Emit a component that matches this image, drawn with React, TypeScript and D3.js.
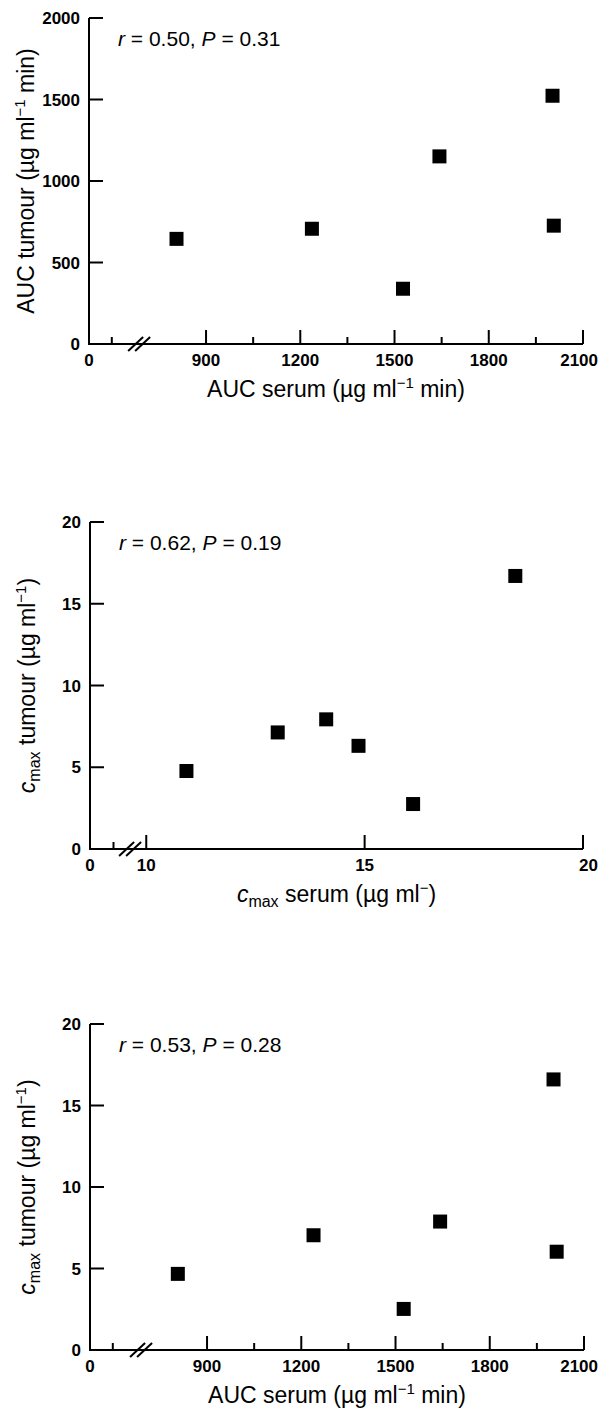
import React from 'react';
import * as d3 from 'd3';

// values
const aucSerumA = [806, 1237, 1527, 1643, 2003, 2007];
const aucTumour = [645, 707, 339, 1151, 1523, 726];
const cmaxSerum = [10.92, 13.01, 14.12, 14.86, 16.11, 18.45];
const cmaxTumourB = [4.77, 7.13, 7.93, 6.31, 2.75, 16.7];
const aucSerumC = [807, 1239, 1526, 1642, 2003, 2013];
const cmaxTumourC = [4.67, 7.04, 2.52, 7.88, 16.6, 6.03];

const aucXTicks = [0, 900, 1200, 1500, 1800, 2100];
const aucXMinor = [600, 1050, 1350, 1650, 1950];
const cmaxXTicks = [0, 10, 15, 20];
const cmaxXMinor = [9.25];
const aucYTicks = [0, 500, 1000, 1500, 2000];
const cmaxYTicks = [0, 5, 10, 15, 20];

const statsR = ['0.50', '0.62', '0.53'];
const statsP = ['0.31', '0.19', '0.28'];

const FONT = '"Liberation Sans", Arial, Helvetica, sans-serif';

type PanelProps = {
  top: number;
  bottom: number;
  xDomain: number[];
  xRange: number[];
  yMax: number;
  xs: number[];
  ys: number[];
  xTicks: number[];
  xMinor: number[];
  yTicks: number[];
  breakAt: number;
  r: string;
  p: string;
  xLabel: React.ReactNode;
  yLabel: React.ReactNode;
};

function Panel(props: PanelProps) {
  const { top, bottom, xDomain, xRange, yMax, xs, ys, xTicks, xMinor, yTicks, breakAt, r, p } = props;
  const x = d3.scaleLinear().domain(xDomain).range(xRange);
  const y = d3.scaleLinear().domain([0, yMax]).range([bottom, top]);
  const x0 = x(0);
  const xEnd = x(xDomain[xDomain.length - 1]);
  const bx = x(breakAt);
  const sq = 14;
  const yMid = (top + bottom) / 2;

  return (
    <g fontFamily={FONT}>
      {/* axes */}
      <path
        d={`M${x0},${top}V${bottom}H${xEnd}`}
        fill="none"
        stroke="#000"
        strokeWidth={2}
      />
      {yTicks.filter(t => t !== 0).map(t => (
        <line key={'yt' + t} x1={x0} x2={x0 + 14} y1={y(t)} y2={y(t)} stroke="#000" strokeWidth={2} />
      ))}
      {yTicks.map(t => (
        <text key={'yl' + t} x={x0 - 9} y={y(t)} dy="0.36em" textAnchor="end" fontSize={17} fontWeight="bold">
          {t}
        </text>
      ))}
      {xTicks.filter(t => t !== 0).map(t => (
        <line key={'xt' + t} x1={x(t)} x2={x(t)} y1={bottom} y2={bottom - 14} stroke="#000" strokeWidth={2} />
      ))}
      {xMinor.map(t => (
        <line key={'xm' + t} x1={x(t)} x2={x(t)} y1={bottom} y2={bottom - 7} stroke="#000" strokeWidth={2} />
      ))}
      {xTicks.map(t => {
        // keep the last label inside the page, as in the original
        const edge = x(t) + 20 > 598;
        return (
          <text
            key={'xl' + t}
            x={edge ? 598 : x(t)}
            y={bottom + 22}
            textAnchor={edge ? 'end' : 'middle'}
            fontSize={17}
            fontWeight="bold"
          >
            {t}
          </text>
        );
      })}
      {/* axis break */}
      {[-3.5, 3.5].map(o => (
        <line key={'br' + o} x1={bx + o - 7.5} y1={bottom + 7} x2={bx + o + 7.5} y2={bottom - 7} stroke="#000" strokeWidth={2} />
      ))}
      {/* points */}
      {xs.map((v, i) => (
        <rect key={'pt' + i} x={x(v) - sq / 2} y={y(ys[i]) - sq / 2} width={sq} height={sq} fill="#000" />
      ))}
      {/* statistics */}
      <text x={x0 + 29} y={top + 28} fontSize={21}>
        <tspan fontStyle="italic">r</tspan>
        {` = ${r}, `}
        <tspan fontStyle="italic">P</tspan>
        <tspan dx={6}>{`= ${p}`}</tspan>
      </text>
      {/* axis titles */}
      <text x={(x0 + xEnd) / 2} y={bottom + 53} textAnchor="middle" fontSize={23}>
        {props.xLabel}
      </text>
      <text transform={`translate(${x0 - 55},${yMid}) rotate(-90)`} textAnchor="middle" fontSize={23}>
        {props.yLabel}
      </text>
    </g>
  );
}

const aucLabel = (name: string) => (
  <>
    <tspan>{`AUC ${name} (µg ml`}</tspan>
    <tspan dy={-9} fontSize={15}>−1</tspan>
    <tspan dy={9}> min)</tspan>
  </>
);

const cmaxLabel = (rest: string, sup: string) => (
  <>
    <tspan fontStyle="italic">c</tspan>
    <tspan dy={5} fontSize={16}>max</tspan>
    <tspan dy={-5}>{rest}</tspan>
    <tspan dy={-9} fontSize={15}>{sup}</tspan>
    <tspan dy={9}>)</tspan>
  </>
);

export default function App() {
  return (
    <svg
      width={600}
      height={1414}
      viewBox="0 0 600 1414"
      style={{ position: 'absolute', left: 0, top: 0, background: '#fff' }}
    >
      <rect width={600} height={1414} fill="#fff" />
      <Panel
        top={18}
        bottom={344}
        xDomain={[0, 600, 2100]}
        xRange={[89, 111.8, 583]}
        yMax={2000}
        xs={aucSerumA}
        ys={aucTumour}
        xTicks={aucXTicks}
        xMinor={aucXMinor}
        yTicks={aucYTicks}
        breakAt={687}
        r={statsR[0]}
        p={statsP[0]}
        xLabel={aucLabel('serum')}
        yLabel={aucLabel('tumour')}
      />
      <Panel
        top={522}
        bottom={849}
        xDomain={[0, 9.25, 20]}
        xRange={[90, 113.5, 583]}
        yMax={20}
        xs={cmaxSerum}
        ys={cmaxTumourB}
        xTicks={cmaxXTicks}
        xMinor={cmaxXMinor}
        yTicks={cmaxYTicks}
        breakAt={9.63}
        r={statsR[1]}
        p={statsP[1]}
        xLabel={cmaxLabel(' serum (µg ml', '−')}
        yLabel={cmaxLabel(' tumour (µg ml', '−1')}
      />
      <Panel
        top={1024}
        bottom={1350}
        xDomain={[0, 600, 2100]}
        xRange={[90, 112.8, 584]}
        yMax={20}
        xs={aucSerumC}
        ys={cmaxTumourC}
        xTicks={aucXTicks}
        xMinor={aucXMinor}
        yTicks={cmaxYTicks}
        breakAt={690}
        r={statsR[2]}
        p={statsP[2]}
        xLabel={aucLabel('serum')}
        yLabel={cmaxLabel(' tumour (µg ml', '−1')}
      />
    </svg>
  );
}
